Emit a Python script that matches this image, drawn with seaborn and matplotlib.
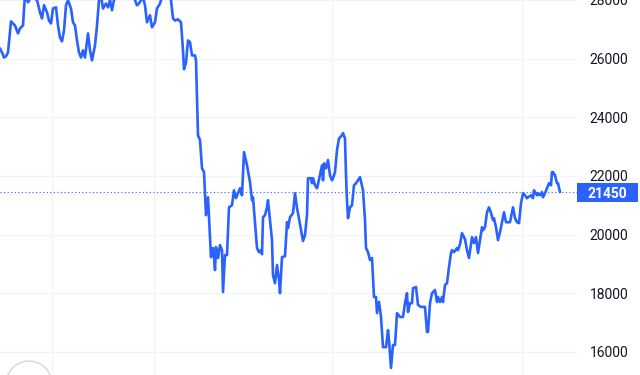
import matplotlib
matplotlib.use("Agg")
import matplotlib.pyplot as plt
from matplotlib.patches import Rectangle, Ellipse
import seaborn as sns
import pandas as pd

# ---- data ----
days = [0, 2, 4, 6, 8, 11, 15, 18, 20, 23, 25, 28, 31, 37, 40, 42, 44, 47, 49, 51,
        53, 56, 58, 60, 62, 64, 66, 68, 71, 73, 75, 77, 79, 81, 83, 85, 88, 90, 92, 95,
        97, 99, 101, 103, 106, 108, 110, 112, 114, 120, 126, 131, 135, 137, 139, 141, 143, 145, 147, 150,
        152, 155, 157, 160, 162, 166, 171, 173, 175, 178, 181, 183, 184, 186, 188, 190, 192, 195, 196, 198,
        200, 202, 204, 206, 208, 210, 211, 213, 214, 215, 216, 218, 220, 222, 223, 225, 227, 229, 232, 234,
        236, 240, 242, 244, 247, 250, 252, 253, 255, 257, 259, 261, 262, 263, 265, 267, 268, 270, 272, 273,
        275, 277, 279, 280, 282, 285, 287, 288, 290, 293, 295, 297, 298, 301, 303, 305, 307, 308, 311, 312,
        313, 315, 317, 318, 322, 323, 324, 326, 328, 330, 332, 333, 335, 337, 339, 342, 343, 345, 346, 347,
        348, 350, 352, 354, 356, 358, 360, 363, 365, 366, 368, 370, 372, 374, 376, 377, 379, 381, 383, 386,
        388, 389, 391, 393, 395, 397, 400, 403, 405, 407, 408, 410, 412, 413, 416, 418, 421, 425, 427, 428,
        430, 432, 435, 437, 438, 440, 442, 443, 445, 447, 449, 451, 452, 454, 457, 458, 460, 462, 465, 467,
        469, 472, 474, 476, 478, 480, 482, 483, 485, 487, 489, 491, 493, 494, 496, 498, 500, 502, 504, 506,
        510, 513, 515, 517, 519, 521, 523, 525, 527, 528, 531, 533, 534, 537, 538, 540, 542, 543, 545, 547,
        549, 551, 552, 553, 555, 557, 558, 560]

prices = [26350, 26210, 26040, 26080, 26210, 27270, 27130, 26860, 27030, 27130, 28200, 27920, 28100, 28000, 27580, 27370, 27820, 27580, 27300, 27200,
          27710, 27750, 27130, 26720, 26590, 26960, 27820, 27990, 27710, 27240, 27130, 26620, 26210, 26040, 26280, 26040, 26860, 26280, 25940, 26450,
          27130, 28000, 28150, 27710, 27880, 27750, 28000, 27650, 28000, 28400, 28600, 28300, 28000, 27820, 27880, 28000, 28100, 27820, 27240, 27480,
          27070, 27240, 27710, 27880, 28100, 28250, 28000, 27370, 27300, 27340, 27240, 26280, 25640, 25870, 26620, 26560, 26110, 26110, 25940, 23390,
          23220, 22260, 22130, 20660, 21270, 19910, 19230, 19540, 19230, 18790, 19570, 19200, 19640, 19470, 18040, 19300, 19300, 20930, 21000, 21510,
          21240, 21580, 21340, 22810, 22360, 21790, 21170, 21270, 20390, 19540, 19400, 19470, 19330, 20590, 20660, 20930, 21170, 20490, 19810, 18620,
          18340, 18960, 18450, 18000, 19230, 19260, 20420, 20220, 20590, 20730, 21410, 20900, 20730, 20150, 19780, 19980, 20660, 21920, 21920, 21750,
          21920, 21680, 21580, 21720, 22360, 21850, 22430, 22260, 22540, 22020, 21850, 21920, 22130, 22880, 23280, 23390, 23460, 23280, 22020, 21170,
          20560, 20930, 21000, 21680, 21750, 21850, 21960, 21510, 20490, 19540, 19400, 19130, 19200, 17870, 17870, 17320, 17700, 17190, 16160, 16160,
          16740, 16400, 15450, 16230, 16230, 17320, 17190, 17190, 17660, 18000, 17360, 17660, 17660, 18170, 18210, 17600, 17530, 17530, 16680, 16680,
          17660, 18000, 18110, 17700, 17870, 17700, 17870, 17700, 18280, 18340, 18890, 19370, 19470, 19400, 19540, 19470, 19670, 20050, 19840, 19470,
          19200, 19910, 19710, 19910, 19370, 19810, 20250, 20150, 20250, 20760, 20930, 20730, 20490, 20560, 20250, 19810, 20080, 20420, 20760, 20420,
          20420, 20930, 20560, 20420, 20390, 21070, 21410, 21340, 21240, 21270, 21340, 21240, 21510, 21340, 21410, 21340, 21450, 21270, 21410, 21580,
          21750, 21680, 22130, 22130, 22020, 21750, 21750, 21450]

last_price = 21450
y_ticks = [16000, 18000, 20000, 22000, 24000, 26000, 28000]
y_tick_labels = [str(v) for v in y_ticks]

df = pd.DataFrame({"day": days, "price": prices})

# ---- styling ----
sns.set_style("white")
plt.rcParams["font.family"] = ["Roboto", "DejaVu Sans"]

BLUE = "#2962FF"
GRID = "#f0f3fa"
TEXT = "#131722"

fig = plt.figure(figsize=(6.4, 3.75), dpi=100)
ax = fig.add_axes([0, 0, 577 / 640, 1])

sns.lineplot(data=df, x="day", y="price", ax=ax, color=BLUE, linewidth=1.9,
             sort=False, estimator=None, zorder=3)

ax.set_xlim(0, 577)
ax.set_ylim(15210, 28000)

# vertical grid at period boundaries (no labels)
ax.set_xticks([52, 154, 332, 522])
ax.set_yticks(y_ticks)
ax.set_yticklabels(y_tick_labels)
ax.grid(True, axis="both", color=GRID, linewidth=0.9, zorder=0)
ax.tick_params(axis="x", length=0, labelbottom=False)
ax.yaxis.tick_right()
ax.tick_params(axis="y", length=0, pad=9, labelsize=10, labelcolor=TEXT)
ax.set_xlabel("")
ax.set_ylabel("")
for s in ax.spines.values():
    s.set_visible(False)

# last price dotted line + label box
ax.axhline(last_price, color=BLUE, linewidth=0.8, linestyle=(0, (1, 2.2)), zorder=2)
px = (ax.get_ylim()[1] - ax.get_ylim()[0]) / 375.0
ax.add_patch(Rectangle((1.0, last_price - 9.5 * px), 61 / 577, 19 * px,
                       transform=ax.get_yaxis_transform(), facecolor=BLUE,
                       edgecolor="none", clip_on=False, zorder=5))
ax.text(1.0 + 30.5 / 577, last_price, f"{last_price}", transform=ax.get_yaxis_transform(),
        ha="center", va="center_baseline", color="white", fontsize=10, fontweight="semibold",
        clip_on=False, zorder=6)

# faint logo circle at bottom-left
fig.patches.append(Ellipse((29 / 640, -9 / 375), 46 / 640, 46 / 375, transform=fig.transFigure,
                           facecolor="white", edgecolor="#dcdcdc", linewidth=1.2, zorder=10))

fig.savefig("out.png", dpi=100)
